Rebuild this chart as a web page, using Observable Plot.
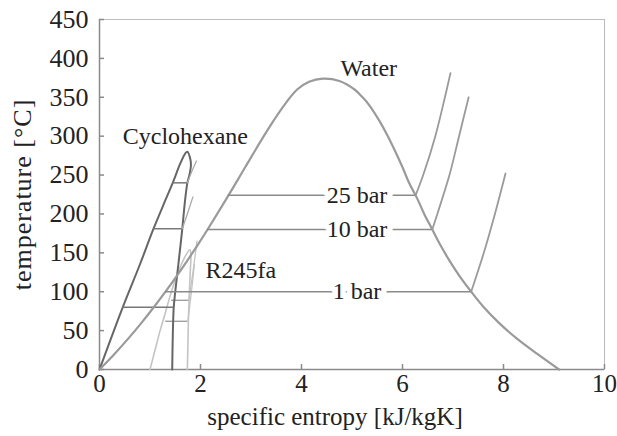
<!DOCTYPE html>
<html><head><meta charset="utf-8">
<script src="https://cdn.jsdelivr.net/npm/d3@7"></script>
<script src="https://cdn.jsdelivr.net/npm/@observablehq/plot@0.6"></script>
<style>body{margin:0;background:#fff}</style>
</head><body><div id="chart"></div>
<script>
// ---- data (specific entropy s [kJ/kgK], temperature T [°C]) ----
const xTicks = [0, 2, 4, 6, 8, 10];
const yTicks = [0, 50, 100, 150, 200, 250, 300, 350, 400, 450];
const xTitle = "specific entropy [kJ/kgK]";
const yTitle = "temperature [°C]";

const waterLiquid = [[0,0],[0.297,20],[0.573,40],[0.831,60],[1.075,80],[1.307,100],[1.528,120],[1.739,140],[1.943,160],[2.140,180],[2.331,200],[2.518,220],[2.702,240],[2.884,260],[3.067,280],[3.253,300],[3.448,320],[3.659,340],[3.914,360],[4.15,370],[4.42,374]];
const waterVapor = [[4.42,374],[4.75,371],[5.05,360],[5.21,350],[5.34,340],[5.54,320],[5.71,300],[5.86,280],[6.00,260],[6.13,240],[6.29,220],[6.43,200],[6.59,180],[6.75,160],[6.93,140],[7.13,120],[7.36,100],[7.61,80],[7.91,60],[8.26,40],[8.67,20],[9.1,0]];

const waterIsobarLabels = ["25 bar", "10 bar", "1 bar"];
const waterIsobarT = [224, 180, 100];
const waterIsobarSf = [2.55, 2.14, 1.31];
const waterIsobarSg = [6.26, 6.59, 7.36];
const waterIsobarLabelS = [5.1, 5.1, 5.1];

const water25 = [[6.26,224],[6.41,250],[6.65,300],[6.84,350],[6.95,381]];
const water10 = [[6.59,180],[6.69,200],[6.93,250],[7.12,300],[7.31,350]];
const water1 = [[7.36,100],[7.61,150],[7.83,200],[8.04,252]];

const cycloLiquid = [[0,0],[0.46,80],[0.8,135],[1.07,181],[1.3,217],[1.45,240],[1.6,265],[1.7,278]];
const cycloVapor = [[1.74,280],[1.8,270],[1.81,262],[1.78,250],[1.74,240],[1.69,215],[1.64,181],[1.57,140],[1.5,100],[1.47,80],[1.45,40],[1.44,0]];
const cycloIsobarT = [80, 181, 240];
const cycloIsobarSf = [0.46, 1.07, 1.45];
const cycloIsobarSg = [1.47, 1.64, 1.74];
const cycloSuper1 = [[1.74,240],[1.83,255],[1.92,268]];
const cycloSuper2 = [[1.64,181],[1.74,200],[1.85,222]];

const r245Liquid = [[1.0,0],[1.1,25],[1.2,50],[1.3,72],[1.4,95],[1.5,115],[1.62,135],[1.72,148],[1.79,154]];
const r245Vapor = [[1.79,154],[1.81,148],[1.8,130],[1.78,100],[1.76,62],[1.75,30],[1.74,0]];
const r245IsobarT = [62, 89];
const r245IsobarSf = [1.31, 1.43];
const r245IsobarSg = [1.75, 1.77];
const r245Super1 = [[1.75,62],[1.82,100],[1.88,135]];
const r245Super2 = [[1.77,89],[1.86,130],[1.93,165]];

const fluidLabels = ["Water", "Cyclohexane", "R245fa"];
const fluidLabelS = [4.77, 0.46, 2.1];
const fluidLabelT = [387, 300, 127];

// ---- helpers to build tables ----
const pts = (arr) => arr.map(([s, T]) => ({s, T}));
const waterDome = pts(waterLiquid.concat(waterVapor.slice(1)));
const cycloDome = pts(cycloLiquid.concat(cycloVapor));
const r245Dome = pts(r245Liquid.concat(r245Vapor.slice(1)));
const waterIsobars = waterIsobarT.map((T, i) => ({T, s1: waterIsobarSf[i], s2: waterIsobarSg[i], label: waterIsobarLabels[i], ls: waterIsobarLabelS[i]}));
const cycloIsobars = cycloIsobarT.map((T, i) => ({T, s1: cycloIsobarSf[i], s2: cycloIsobarSg[i]}));
const r245Isobars = r245IsobarT.map((T, i) => ({T, s1: r245IsobarSf[i], s2: r245IsobarSg[i]}));
const fluids = fluidLabels.map((label, i) => ({label, s: fluidLabelS[i], T: fluidLabelT[i]}));

const cWater = "#9a9a9a", cCyclo = "#666", cR = "#c4c4c4", cAxis = "#8a8a8a";

const chart = Plot.plot({
  width: 617,
  height: 436,
  marginLeft: 99,
  marginRight: 13,
  marginTop: 19,
  marginBottom: 67,
  style: {fontFamily: "'Liberation Serif', 'Times New Roman', serif", fontSize: "26px", color: "#222", background: "#fff"},
  x: {domain: [0, 10]},
  y: {domain: [0, 450]},
  marks: [
    Plot.frame({stroke: "#bbb", strokeWidth: 1}),
    Plot.axisX({ticks: xTicks, tickFormat: d => String(d), tickSize: -5, tickPadding: 10, stroke: cAxis, strokeWidth: 1.5, label: null, fontSize: 25}),
    Plot.axisY({ticks: yTicks, tickFormat: d => String(d), tickSize: -5, tickPadding: 16, stroke: cAxis, strokeWidth: 1.5, label: null, fontSize: 26}),
    Plot.ruleX([0], {stroke: cAxis, strokeWidth: 1.5}),
    Plot.ruleY([0], {stroke: cAxis, strokeWidth: 1.5}),
    Plot.text([xTitle], {frameAnchor: "bottom", dy: 55, dx: -17, text: d => d, fontSize: 25, fill: "#222"}),
    Plot.text([yTitle], {frameAnchor: "left", textAnchor: "middle", dx: -77, dy: 0, rotate: -90, text: d => d, fontSize: 26, fill: "#222", className: "ytitle"}),
    // R245fa (light)
    Plot.line(r245Dome, {x: "s", y: "T", stroke: cR, strokeWidth: 1.6, curve: "catmull-rom"}),
    Plot.ruleY(r245Isobars, {y: "T", x1: "s1", x2: "s2", stroke: "#999", strokeWidth: 1.3}),
    Plot.line(pts(r245Super1), {x: "s", y: "T", stroke: cR, strokeWidth: 1.3, curve: "catmull-rom"}),
    Plot.line(pts(r245Super2), {x: "s", y: "T", stroke: cR, strokeWidth: 1.3, curve: "catmull-rom"}),
    // Cyclohexane (dark)
    Plot.line(cycloDome, {x: "s", y: "T", stroke: cCyclo, strokeWidth: 2, curve: "catmull-rom"}),
    Plot.ruleY(cycloIsobars, {y: "T", x1: "s1", x2: "s2", stroke: "#777", strokeWidth: 1.5}),
    Plot.line(pts(cycloSuper1), {x: "s", y: "T", stroke: "#aaa", strokeWidth: 1.3, curve: "catmull-rom"}),
    Plot.line(pts(cycloSuper2), {x: "s", y: "T", stroke: "#aaa", strokeWidth: 1.3, curve: "catmull-rom"}),
    // Water
    Plot.line(waterDome, {x: "s", y: "T", stroke: cWater, strokeWidth: 2.2, curve: "catmull-rom"}),
    Plot.ruleY(waterIsobars, {y: "T", x1: "s1", x2: "s2", stroke: "#8a8a8a", strokeWidth: 1.5}),
    Plot.line(pts(water25), {x: "s", y: "T", stroke: cWater, strokeWidth: 1.8, curve: "catmull-rom"}),
    Plot.line(pts(water10), {x: "s", y: "T", stroke: cWater, strokeWidth: 1.8, curve: "catmull-rom"}),
    Plot.line(pts(water1), {x: "s", y: "T", stroke: cWater, strokeWidth: 1.8, curve: "catmull-rom"}),
    Plot.text(waterIsobars, {x: "ls", y: "T", text: "label", fontSize: 24, fill: "#222", stroke: "white", strokeWidth: 11}),
    Plot.text(fluids, {x: "s", y: "T", text: "label", fontSize: 24, fill: "#222", textAnchor: "start"})
  ]
});
d3.select(chart).selectAll(".ytitle text").style("letter-spacing", "1px");
document.getElementById("chart").appendChild(chart);
</script>
</body></html>
